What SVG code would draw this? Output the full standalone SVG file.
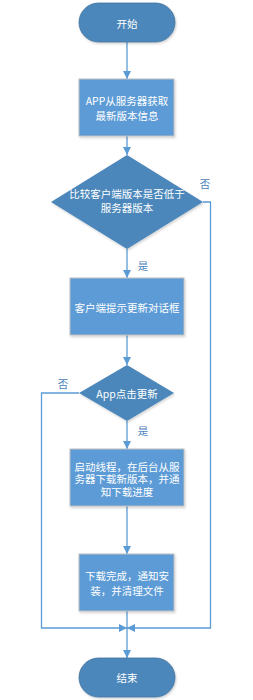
<svg xmlns="http://www.w3.org/2000/svg" width="253" height="700" viewBox="0 0 253 700">
<defs>
<marker id="ah" viewBox="0 0 10 10" refX="10" refY="5" markerWidth="8" markerHeight="8" markerUnits="userSpaceOnUse" orient="auto">
<path d="M0,0 L10,5 L0,10 Z" fill="#5b9bd5"/>
</marker>
<filter id="sh" x="-10%" y="-10%" width="130%" height="130%">
<feDropShadow dx="1" dy="1.5" stdDeviation="1.2" flood-color="#000" flood-opacity="0.18"/>
</filter>
</defs>
<style>
.term{fill:#4c87ba;stroke:#41719c;stroke-width:0.8;filter:url(#sh)}
.dia{fill:#4c87ba;stroke:none;filter:url(#sh)}
.box{fill:#5b9bd5;stroke:#bfbfbf;stroke-width:1;filter:url(#sh)}
.t{font-family:"Noto Sans CJK SC","Liberation Sans",sans-serif;font-size:10.5px;fill:#ffffff;text-anchor:middle;dominant-baseline:central}
.lbl{font-family:"Noto Sans CJK SC","Liberation Sans",sans-serif;font-size:10.5px;fill:#4a7ebb;text-anchor:middle;dominant-baseline:central}
.c{fill:none;stroke:#5b9bd5;stroke-width:1.3}
</style>
<g id="connectors">
<path class="c" d="M127,42 V79" marker-end="url(#ah)"/>
<path class="c" d="M127,136 V155" marker-end="url(#ah)"/>
<path class="c" d="M127,249 V278" marker-end="url(#ah)"/>
<path class="c" d="M127,335 V365" marker-end="url(#ah)"/>
<path class="c" d="M127,421 V449" marker-end="url(#ah)"/>
<path class="c" d="M127,506 V554" marker-end="url(#ah)"/>
<path class="c" d="M127,611 V658" marker-end="url(#ah)"/>
<path class="c" d="M203,202 H210.5 V628 H127" marker-end="url(#ah)"/>
<path class="c" d="M79,393 H41.5 V628 H127" marker-end="url(#ah)"/>
<text class="lbl" x="205" y="183">否</text>
<text class="lbl" x="143" y="265">是</text>
<text class="lbl" x="63" y="383">否</text>
<text class="lbl" x="143" y="430">是</text>
</g>
<g id="start">
<rect class="term" x="79" y="3" width="96" height="39" rx="19.5"/>
<text class="t" x="127" y="23">开始</text>
</g>
<g id="fetch">
<rect class="box" x="79" y="79" width="95" height="57"/>
<text class="t" x="127" y="100">APP从服务器获取</text>
<text class="t" x="127" y="115">最新版本信息</text>
</g>
<g id="compare">
<path class="dia" d="M127,155 L203,202 L127,249 L51,202 Z"/>
<text class="t" x="127" y="193">比较客户端版本是否低于</text>
<text class="t" x="127" y="207">服务器版本</text>
</g>
<g id="prompt">
<rect class="box" x="70" y="278" width="114" height="57"/>
<text class="t" x="127" y="307">客户端提示更新对话框</text>
</g>
<g id="click">
<path class="dia" d="M127,365 L174,393 L127,421 L79,393 Z"/>
<text class="t" x="127" y="393">App点击更新</text>
</g>
<g id="download">
<rect class="box" x="70" y="449" width="114" height="57"/>
<text class="t" x="127" y="466">启动线程，在后台从服</text>
<text class="t" x="127" y="478.5">务器下载新版本，并通</text>
<text class="t" x="127" y="491">知下载进度</text>
</g>
<g id="install">
<rect class="box" x="79" y="554" width="95" height="57"/>
<text class="t" x="127" y="575">下载完成，通知安</text>
<text class="t" x="127" y="590">装，并清理文件</text>
</g>
<g id="end">
<rect class="term" x="79" y="658" width="96" height="39" rx="19.5"/>
<text class="t" x="127" y="677">结束</text>
</g>
</svg>
